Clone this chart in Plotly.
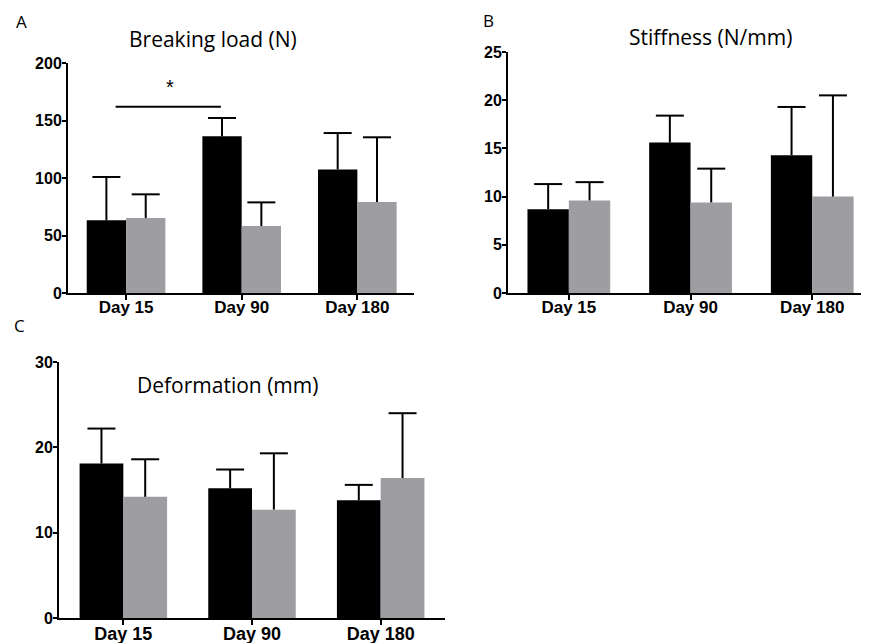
import numpy as np
import plotly.graph_objects as go

# data (mean and upper SD per group)
days = ["Day 15", "Day 90", "Day 180"]

load_black = [63.2, 136.2, 107.5]
load_black_sd = [37.7, 16.0, 31.6]
load_gray = [65.2, 58.3, 79.1]
load_gray_sd = [20.6, 20.5, 56.3]

stiff_black = [8.7, 15.6, 14.3]
stiff_black_sd = [2.6, 2.8, 5.0]
stiff_gray = [9.6, 9.4, 10.0]
stiff_gray_sd = [1.9, 3.5, 10.5]

deform_black = [18.1, 15.2, 13.8]
deform_black_sd = [4.1, 2.2, 1.8]
deform_gray = [14.2, 12.7, 16.4]
deform_gray_sd = [4.4, 6.6, 7.6]

BLACK = "#000000"
GRAY = "#9e9da2"
BAR_W = 0.34

# the page body has an 8px margin, so the figure is a bit smaller than the window
W, H, OFF = 861, 635, 8


def fx(px):
    return (px - OFF) / W


def fy(py):
    return 1 - (py - OFF) / H


panels = [
    # (black, black_sd, gray, gray_sd, axis suffix, x range, x px span, y range, y px span, y ticks, x font)
    (load_black, load_black_sd, load_gray, load_gray_sd, "",
     [-0.502, 2.49], (68, 414), [0, 200], (293, 63), [0, 50, 100, 150, 200], 17),
    (stiff_black, stiff_black_sd, stiff_gray, stiff_gray_sd, "2",
     [-0.50, 2.45], (508, 867), [0, 25], (293, 52), [0, 5, 10, 15, 20, 25], 17),
    (deform_black, deform_black_sd, deform_gray, deform_gray_sd, "3",
     [-0.50, 2.50], (59, 445), [0, 30], (618, 362), [0, 10, 20, 30], 18),
]

fig = go.Figure()
idx = np.arange(len(days))

for black, black_sd, gray, gray_sd, sfx, xr, xpx, yr, ypx, yt, xfs in panels:
    xa, ya = "x" + sfx, "y" + sfx
    for vals, sds, color, off in [(black, black_sd, BLACK, -BAR_W / 2), (gray, gray_sd, GRAY, BAR_W / 2)]:
        pos = idx + off
        fig.add_trace(go.Bar(x=pos, y=vals, width=BAR_W, marker=dict(color=color, line_width=0),
                             xaxis=xa, yaxis=ya, showlegend=False))
        # upward-only error bars: stem + cap
        ex, ey = [], []
        for p, v, s in zip(pos, vals, sds):
            ex += [p, p, None]
            ey += [v, v + s, None]
        fig.add_trace(go.Scatter(x=ex, y=ey, mode="lines", line=dict(color="black", width=2),
                                 xaxis=xa, yaxis=ya, showlegend=False, hoverinfo="skip"))
        fig.add_trace(go.Scatter(x=pos, y=np.array(vals) + np.array(sds), mode="markers",
                                 marker=dict(symbol="line-ew", size=20, line=dict(color="black", width=2)),
                                 xaxis=xa, yaxis=ya, showlegend=False, hoverinfo="skip"))

    fig.update_layout({
        "xaxis" + sfx: dict(domain=[fx(xpx[0]), fx(xpx[1])], range=xr, anchor=ya,
                            tickvals=list(idx), ticktext=days, automargin=False, ticklabelstandoff=-7,
                            showline=True, linecolor="black", linewidth=2, ticks="outside",
                            ticklen=5, tickwidth=2, tickcolor="black", showgrid=False, zeroline=False,
                            tickfont=dict(family="Liberation Sans, Arial", size=xfs, color="black", weight="bold")),
        "yaxis" + sfx: dict(domain=[fy(ypx[0]), fy(ypx[1])], range=yr, anchor=xa,
                            tickvals=yt, automargin=False, ticklabelstandoff=-3,
                            showline=True, linecolor="black", linewidth=2, ticks="outside",
                            ticklen=4, tickwidth=2, tickcolor="black", showgrid=False, zeroline=False,
                            tickfont=dict(family="Liberation Sans, Arial", size=16, color="black", weight="bold")),
    })

# significance bracket on panel A
fig.add_shape(type="line", xref="x", yref="y", x0=-0.09, x1=0.82, y0=162, y1=162,
              line=dict(color="black", width=2))
fig.add_annotation(x=0.38, y=168, xref="x", yref="y", text="*", showarrow=False,
                   yanchor="bottom", font=dict(family="Liberation Sans, Arial", size=20, color="black"))

title_font = dict(family="Open Sans, Noto Sans", color="black")
for txt, px, py in [("Breaking load (N)", 213, 39),
                    ("Stiffness (N/mm)", 710, 37),
                    ("Deformation (mm)", 227, 385)]:
    fig.add_annotation(x=fx(px), y=fy(py), xref="paper", yref="paper", text=txt, showarrow=False,
                       xanchor="center", yanchor="middle", font=dict(size=21, **title_font))

# panel letters (A pinned to the top edge so its box stays inside the figure)
fig.add_annotation(x=fx(21), y=1.0, xref="paper", yref="paper", text="A", showarrow=False,
                   xanchor="center", yanchor="top", font=dict(size=17, **title_font))
for txt, px, py in [("B", 489, 21), ("C", 19, 325)]:
    fig.add_annotation(x=fx(px), y=fy(py), xref="paper", yref="paper", text=txt, showarrow=False,
                       xanchor="center", yanchor="middle", font=dict(size=17, **title_font))

fig.update_layout(
    template="none",
    width=W, height=H,
    margin=dict(l=0, r=0, t=0, b=0),
    plot_bgcolor="white", paper_bgcolor="white",
    barmode="overlay",
)

fig.write_html("out.html")
